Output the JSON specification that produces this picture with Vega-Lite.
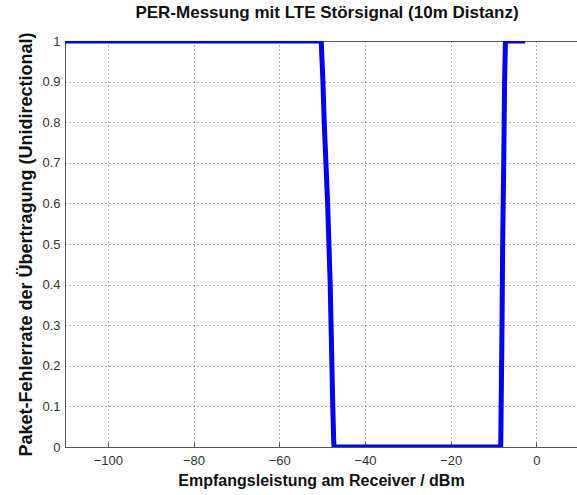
{
  "$schema": "https://vega.github.io/schema/vega-lite/v6.json",
  "width": 512,
  "height": 406,
  "autosize": {"type": "none"},
  "padding": {"left": 65, "top": 41, "right": 0, "bottom": 48},
  "background": "white",
  "title": {
    "text": "PER-Messung mit LTE Störsignal (10m Distanz)",
    "font": "Liberation Sans",
    "fontSize": 17,
    "fontWeight": "bold",
    "color": "#111111",
    "offset": 10,
    "dx": 6
  },
  "config": {
    "view": {"stroke": "#555555", "strokeWidth": 1},
    "axis": {
      "labelFont": "Liberation Sans",
      "labelFontSize": 13,
      "labelColor": "#333333",
      "titleFont": "Liberation Sans",
      "titleFontSize": 16,
      "titleFontWeight": "bold",
      "titleColor": "#111111",
      "domainColor": "#555555",
      "gridColor": "#666666",
      "gridDash": [1, 3],
      "gridWidth": 1,
      "gridOpacity": 1,
      "tickColor": "#555555"
    }
  },
  "data": {
    "values": [
      {"p": -110, "per": 1},
      {"p": -50.2, "per": 1},
      {"p": -50.0, "per": 0.95},
      {"p": -49.8, "per": 0.9},
      {"p": -49.5, "per": 0.8},
      {"p": -49.1, "per": 0.7},
      {"p": -48.7, "per": 0.6},
      {"p": -48.4, "per": 0.5},
      {"p": -48.1, "per": 0.4},
      {"p": -47.9, "per": 0.3},
      {"p": -47.7, "per": 0.2},
      {"p": -47.5, "per": 0.1},
      {"p": -47.3, "per": 0.02},
      {"p": -47.2, "per": 0},
      {"p": -8.3, "per": 0},
      {"p": -8.2, "per": 0.1},
      {"p": -8.0, "per": 0.3},
      {"p": -7.85, "per": 0.5},
      {"p": -7.6, "per": 0.7},
      {"p": -7.4, "per": 0.9},
      {"p": -7.2, "per": 1},
      {"p": -2.6, "per": 1}
    ]
  },
  "mark": {"type": "line", "color": "#0000ff", "strokeWidth": 5, "clip": true, "strokeJoin": "miter"},
  "encoding": {
    "x": {
      "field": "p",
      "type": "quantitative",
      "scale": {"domain": [-110, 9.5], "nice": false, "zero": false},
      "axis": {
        "title": "Empfangsleistung am Receiver / dBm",
        "values": [-100, -80, -60, -40, -20, 0],
        "ticks": true,
        "tickSize": -5,
        "labelPadding": 12,
        "titlePadding": 5
      }
    },
    "y": {
      "field": "per",
      "type": "quantitative",
      "scale": {"domain": [0, 1], "nice": false},
      "axis": {
        "title": "Paket-Fehlerrate der Übertragung (Unidirectional)",
        "titleFontSize": 18,
        "values": [0, 0.1, 0.2, 0.3, 0.4, 0.5, 0.6, 0.7, 0.8, 0.9, 1],
        "ticks": false,
        "labelPadding": 5,
        "titlePadding": 6,
        "labelExpr": "datum.value == 0 || datum.value == 1 ? format(datum.value, 'd') : format(datum.value, '.1f')"
      }
    }
  }
}
